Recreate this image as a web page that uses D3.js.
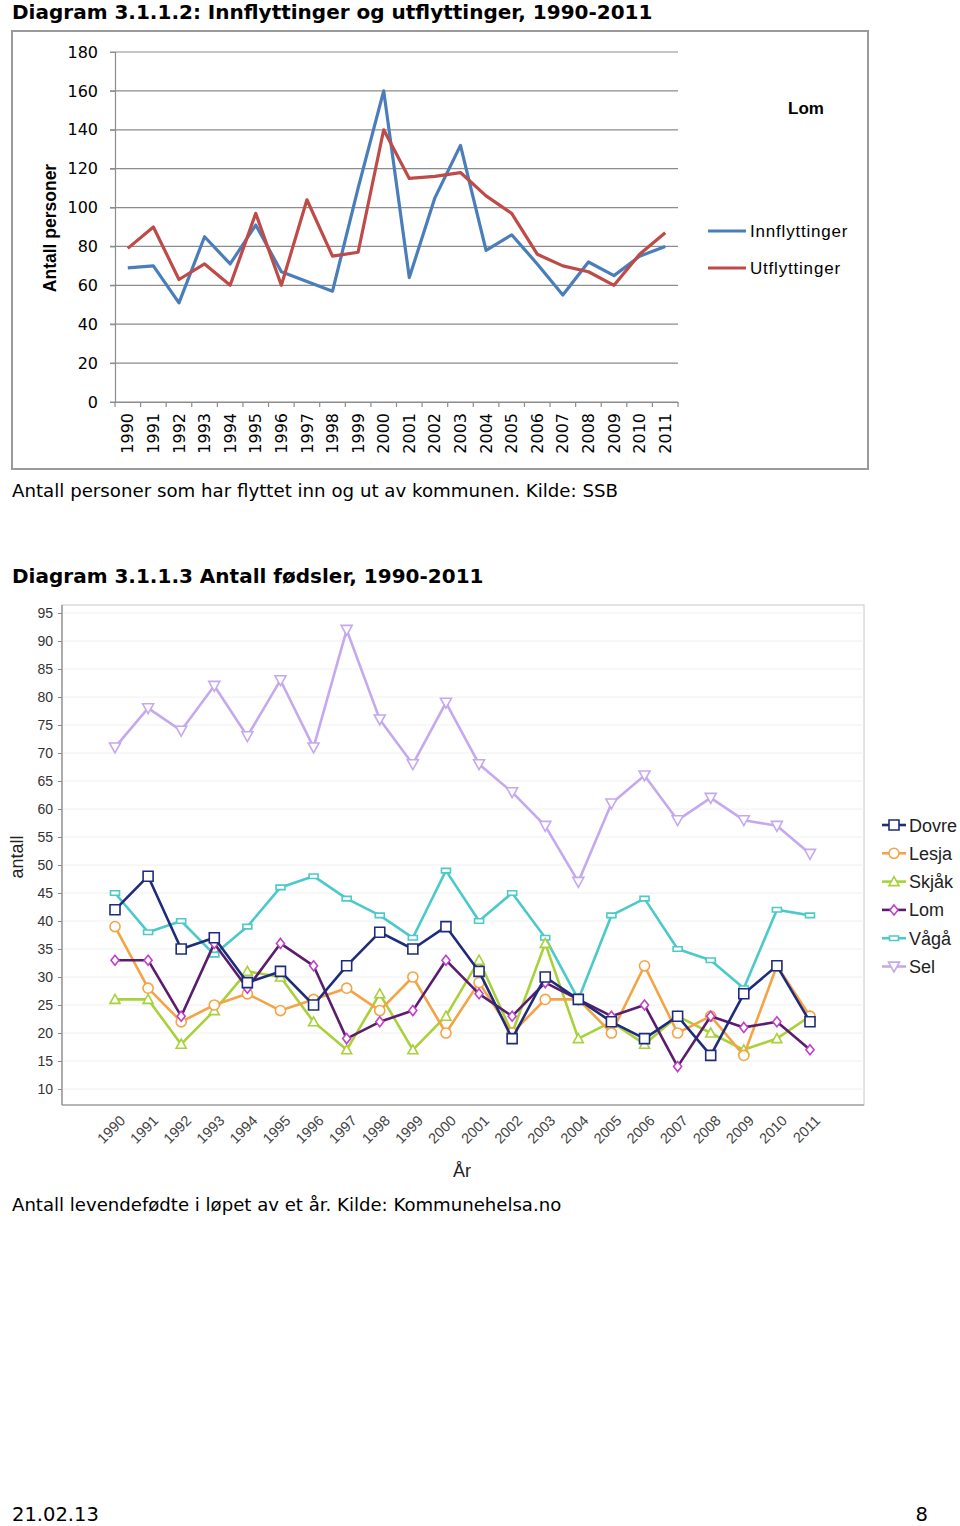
<!DOCTYPE html>
<html><head><meta charset="utf-8">
<script src="https://cdn.jsdelivr.net/npm/d3@7"></script>
<style>
html,body{margin:0;padding:0;background:#fff;}
svg{display:block;}
</style></head>
<body>
<svg id="page" width="960" height="1526"></svg>
<script>
// ---------- Data: chart 1 ----------
const years = ["1990","1991","1992","1993","1994","1995","1996","1997","1998","1999","2000","2001","2002","2003","2004","2005","2006","2007","2008","2009","2010","2011"];
const innflyttinger = [69,70,51,85,71,91,67,62,57,110,160,64,105,132,78,86,71,55,72,65,75,80];
const utflyttinger  = [79,90,63,71,60,97,60,104,75,77,140,115,116,118,106,97,76,70,67,60,76,87];
const yTicks1 = [0,20,40,60,80,100,120,140,160,180];

// ---------- Data: chart 2 ----------
const dovre = [42,48,35,37,29,31,25,32,38,35,39,31,19,30,26,22,19,23,16,27,32,22];
const lesja = [39,28,22,25,27,24,26,28,24,30,20,29,20,26,26,20,32,20,23,16,32,23];
const skjak = [26,26,18,24,31,30,22,17,27,17,23,33,20,36,19,22,18,23,20,17,19,23];
const lom   = [33,33,23,36,28,36,32,19,22,24,33,27,23,29,26,23,25,14,23,21,22,17];
const vaga  = [45,38,40,34,39,46,48,44,41,37,49,40,45,37,26,41,44,35,33,28,42,41];
const sel   = [71,78,74,82,73,83,71,92,76,68,79,68,63,57,47,61,66,58,62,58,57,52];
const seriesNames = ["Dovre","Lesja","Skjåk","Lom","Vågå","Sel"];
const yTicks2 = [10,15,20,25,30,35,40,45,50,55,60,65,70,75,80,85,90,95];

const svg = d3.select("#page");
const FONT = "DejaVu Sans, Verdana, sans-serif";
const SANS = "Liberation Sans, Arial, sans-serif";

// ---------- Page texts ----------
svg.append("text").attr("x",12).attr("y",19).attr("font-family",FONT).attr("font-weight","bold")
  .attr("font-size",20).attr("fill","#000").text("Diagram 3.1.1.2: Innflyttinger og utflyttinger, 1990-2011");
svg.append("text").attr("x",12).attr("y",497).attr("font-family",FONT)
  .attr("font-size",18.2).attr("fill","#000").text("Antall personer som har flyttet inn og ut av kommunen. Kilde: SSB");
svg.append("text").attr("x",12).attr("y",583).attr("font-family",FONT).attr("font-weight","bold")
  .attr("font-size",20).attr("fill","#000").text("Diagram 3.1.1.3 Antall fødsler, 1990-2011");
svg.append("text").attr("x",12).attr("y",1211).attr("font-family",FONT)
  .attr("font-size",18.1).attr("fill","#000").text("Antall levendefødte i løpet av et år. Kilde: Kommunehelsa.no");
svg.append("text").attr("x",12).attr("y",1521).attr("font-family",FONT)
  .attr("font-size",19.5).attr("fill","#000").text("21.02.13");
svg.append("text").attr("x",928).attr("y",1521).attr("text-anchor","end").attr("font-family",FONT)
  .attr("font-size",19.5).attr("fill","#000").text("8");

// ================= Chart 1 =================
const c1 = svg.append("g");
c1.append("rect").attr("x",12).attr("y",31).attr("width",856).attr("height",438)
  .attr("fill","#fff").attr("stroke","#9a9a9a").attr("stroke-width",2);

const x1 = d3.scaleBand().domain(years).range([115,678]);
const y1 = d3.scaleLinear().domain([0,180]).range([402,52]);

c1.append("g").selectAll("line").data(yTicks1).join("line")
  .attr("x1",110).attr("x2",678).attr("y1",d=>y1(d)).attr("y2",d=>y1(d))
  .attr("stroke","#8c8c8c").attr("stroke-width",1.2);

const yAx1 = c1.append("g").attr("transform","translate(115,0)")
  .call(d3.axisLeft(y1).tickValues(yTicks1).tickSize(5).tickPadding(12));
yAx1.select(".domain").attr("stroke","#8c8c8c").attr("stroke-width",1.2);
yAx1.selectAll(".tick line").attr("stroke","#8c8c8c");
yAx1.selectAll("text").attr("font-family",FONT).attr("font-size",16).attr("fill","#000");

const xAx1 = c1.append("g").attr("transform","translate(0,402)")
  .call(d3.axisBottom(x1).tickSize(0).tickPadding(0));
xAx1.select(".domain").attr("stroke","#8c8c8c").attr("stroke-width",1.2);
xAx1.selectAll(".tick text").attr("font-family",FONT).attr("font-size",16).attr("fill","#000")
  .attr("text-anchor","end").attr("dy","0.35em").attr("transform","translate(0,11) rotate(-90)").attr("y",0).attr("x",0);
c1.append("g").selectAll("line").data(d3.range(years.length+1)).join("line")
  .attr("x1",i=>115+i*x1.step()).attr("x2",i=>115+i*x1.step())
  .attr("y1",402).attr("y2",407).attr("stroke","#8c8c8c").attr("stroke-width",1.2);

c1.append("text").attr("transform","translate(56,228) rotate(-90)").attr("text-anchor","middle")
  .attr("font-family",SANS).attr("font-weight","bold").attr("font-size",17.5)
  .text("Antall personer");

const line1 = d3.line().x((d,i)=>x1(years[i])+x1.bandwidth()/2).y(d=>y1(d));
c1.append("path").datum(innflyttinger).attr("d",line1).attr("fill","none")
  .attr("stroke","#4a7ebb").attr("stroke-width",3.2).attr("stroke-linejoin","round");
c1.append("path").datum(utflyttinger).attr("d",line1).attr("fill","none")
  .attr("stroke","#be4b48").attr("stroke-width",3.2).attr("stroke-linejoin","round");

c1.append("text").attr("x",806).attr("y",114).attr("text-anchor","middle")
  .attr("font-family",SANS).attr("font-weight","bold").attr("font-size",17).text("Lom");

const leg1 = [{n:"Innflyttinger",c:"#4a7ebb"},{n:"Utflyttinger",c:"#be4b48"}];
const lg1 = c1.append("g").selectAll("g").data(leg1).join("g")
  .attr("transform",(d,i)=>`translate(708,${231+i*37})`);
lg1.append("line").attr("x1",0).attr("x2",38).attr("stroke",d=>d.c).attr("stroke-width",3.2);
lg1.append("text").attr("x",42).attr("y",6).attr("font-family",SANS)
  .attr("font-size",17).attr("letter-spacing",0.8).text(d=>d.n);

// ================= Chart 2 =================
const c2 = svg.append("g");
const x2 = d3.scalePoint().domain(years).range([115,810]);
const y2 = d3.scaleLinear().domain([10,95]).range([1089,613]);

c2.append("rect").attr("x",62).attr("y",605).attr("width",802).attr("height",500)
  .attr("fill","#fff").attr("stroke","#c8c8c8").attr("stroke-width",1);
c2.append("g").selectAll("line").data(yTicks2).join("line")
  .attr("x1",62).attr("x2",864).attr("y1",d=>y2(d)).attr("y2",d=>y2(d))
  .attr("stroke","#f0f0f0").attr("stroke-width",1);

const yAx2 = c2.append("g").attr("transform","translate(62,0)")
  .call(d3.axisLeft(y2).tickValues(yTicks2).tickSize(4).tickPadding(5));
yAx2.select(".domain").attr("stroke","#888").attr("stroke-width",1.2).attr("d","M-0,605V1105");
yAx2.selectAll(".tick line").attr("stroke","#888");
yAx2.selectAll("text").attr("font-family",SANS).attr("font-size",14).attr("fill","#333");
c2.append("line").attr("x1",62).attr("x2",864).attr("y1",1105).attr("y2",1105).attr("stroke","#888").attr("stroke-width",1.2);

const xAx2 = c2.append("g").attr("transform","translate(0,1105)")
  .call(d3.axisBottom(x2).tickSize(0).tickPadding(0));
xAx2.select(".domain").remove();
xAx2.selectAll(".tick text").attr("font-family",SANS).attr("font-size",14.5)
  .attr("fill","#444").attr("text-anchor","end").attr("dy","0.35em")
  .attr("y",0).attr("transform","translate(7,13) rotate(-45)");

c2.append("text").attr("x",462).attr("y",1177).attr("text-anchor","middle")
  .attr("font-family",SANS).attr("font-size",18).attr("fill","#222").text("År");
c2.append("text").attr("transform","translate(23,857) rotate(-90)").attr("text-anchor","middle")
  .attr("font-family",SANS).attr("font-size",18).attr("fill","#222").text("antall");

const seriesData = [dovre,lesja,skjak,lom,vaga,sel];
const lineCols = ["#1f2c7c","#f4a446","#a9d13a","#5a1d6e","#4cc9c9","#c5a9ef"];
const markCols = ["#1f2c7c","#f4a446","#a9d13a","#c040c8","#4cc9c9","#c5a9ef"];
const symTypes = ["square","circle","triangleUp","diamond","rect","triangleDown"];

function markerPath(t, s){
  const h = s/2;
  switch(t){
    case "square": return `M${-h},${-h}H${h}V${h}H${-h}Z`;
    case "circle": return d3.symbol(d3.symbolCircle, s*s*0.8)();
    case "triangleUp": return `M0,${-h}L${h},${h*0.8}L${-h},${h*0.8}Z`;
    case "triangleDown": return `M0,${h}L${h},${-h*0.8}L${-h},${-h*0.8}Z`;
    case "diamond": return `M0,${-h}L${h*0.8},0L0,${h}L${-h*0.8},0Z`;
    case "rect": return `M${-h},${-h*0.5}H${h}V${h*0.5}H${-h}Z`;
  }
}
const markSize = [10,10,10,10,9,11];

const line2 = d3.line().x((d,i)=>x2(years[i])).y(d=>y2(d));
const order = [5,4,2,1,3,0];
order.forEach(k=>{
  const g = c2.append("g");
  g.append("path").datum(seriesData[k]).attr("d",line2).attr("fill","none")
    .attr("stroke",lineCols[k]).attr("stroke-width",2.6).attr("stroke-linejoin","round");
  g.selectAll("path.m").data(seriesData[k]).join("path").attr("class","m")
    .attr("transform",(d,i)=>`translate(${x2(years[i])},${y2(d)})`)
    .attr("d",markerPath(symTypes[k],markSize[k])).attr("fill","#fff")
    .attr("stroke",markCols[k]).attr("stroke-width",1.6);
});

const lg2 = c2.append("g").selectAll("g").data(seriesNames).join("g")
  .attr("transform",(d,i)=>`translate(882,${825+i*28.3})`);
lg2.append("line").attr("x1",0).attr("x2",24).attr("stroke",(d,i)=>lineCols[i]).attr("stroke-width",2.6);
lg2.append("path").attr("transform","translate(12,0)").attr("d",(d,i)=>markerPath(symTypes[i],markSize[i]))
  .attr("fill","#fff").attr("stroke",(d,i)=>markCols[i]).attr("stroke-width",1.6);
lg2.append("text").attr("x",27).attr("y",6.5).attr("font-family",SANS)
  .attr("font-size",18).attr("fill","#222").text(d=>d);
</script>
</body></html>
